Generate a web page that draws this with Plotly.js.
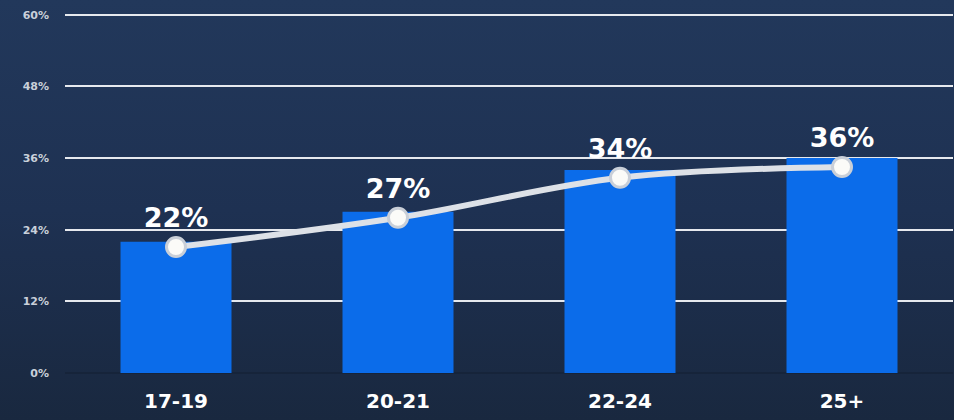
<!DOCTYPE html>
<html><head><meta charset="utf-8">
<script src="https://cdn.plot.ly/plotly-3.0.1.min.js"></script>
<style>
html,body{margin:0;padding:0;width:954px;height:420px;overflow:hidden;}
body{background:linear-gradient(180deg,#22385b 0%,#1e3152 50%,#19283f 100%);}
#chart{width:954px;height:420px;}
</style></head>
<body><div id="chart"></div>
<script>
const categories = ["17-19", "20-21", "22-24", "25+"];
const barValues = [22, 27, 34, 36];
const lineValues = [21.1, 26.0, 32.7, 34.5];
const labelTexts = ["22%", "27%", "34%", "36%"];
const yTickVals = [0, 12, 24, 36, 48, 60];
const yTickText = ["0%", "12%", "24%", "36%", "48%", "60%"];

const traces = [
  {type: "bar", x: categories, y: barValues, width: 0.5,
   marker: {color: "#0b6cea"}, hoverinfo: "skip", showlegend: false},
  {type: "scatter", mode: "lines+markers+text", x: categories, y: lineValues,
   line: {color: "#dde1e7", width: 6, shape: "spline"},
   marker: {size: 19, color: "#fbfbf8", line: {color: "#c9cfd8", width: 3}},
   text: labelTexts, textposition: "top center",
   textfont: {family: "DejaVu Sans", size: 27, color: "#ffffff", weight: 600},
   cliponaxis: false, showlegend: false}
];

const layout = {
  width: 954, height: 420,
  margin: {l: 65, r: 1, t: 13, b: 47},
  paper_bgcolor: "rgba(0,0,0,0)",
  plot_bgcolor: "rgba(0,0,0,0)",
  xaxis: {type: "category", range: [-0.5, 3.5], showgrid: false, zeroline: false,
          showline: false, ticks: "", fixedrange: true, ticklabelstandoff: 14,
          tickfont: {family: "DejaVu Sans", size: 20, color: "#ffffff", weight: "bold"}},
  yaxis: {range: [0, 60.3], tickvals: yTickVals, ticktext: yTickText,
          gridcolor: "#e6e9ee", gridwidth: 2, zeroline: true, zerolinecolor: "#16243a",
          zerolinewidth: 2, showline: false, ticks: "", ticklabelstandoff: 15,
          tickfont: {family: "DejaVu Sans", size: 11, color: "#c9d0da", weight: "bold"}},
  bargap: 0.5
};
Plotly.newPlot("chart", traces, layout, {displayModeBar: false, staticPlot: true});
</script></body></html>
